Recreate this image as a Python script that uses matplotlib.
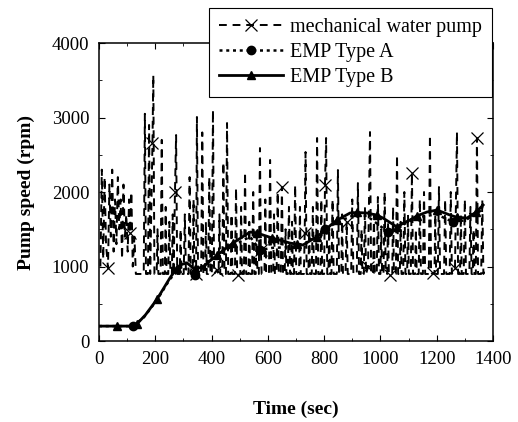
import matplotlib
matplotlib.use("Agg")
import matplotlib.pyplot as plt

plt.rcParams['font.family'] = ['Liberation Serif', 'DejaVu Serif']

# mechanical water pump (fast on/off spikes)
mech_t = [5, 10, 15, 20, 25, 32, 37, 42, 47, 52, 57, 62, 67, 72, 77, 82, 87, 92, 97, 102,
          107, 110, 115, 120, 126, 131,
          159, 163, 167, 174, 178, 182, 190, 193, 197, 205, 208, 211, 219, 223, 227,
          234, 237, 240, 246, 250, 254, 259, 262, 265, 270, 274, 278, 287, 290, 293,
          301, 305, 309, 318, 322, 326, 333, 336, 339, 345, 348, 352, 363, 367, 371,
          377, 380, 383, 388, 392, 396, 401, 405, 409, 419, 425, 428, 431,
          438, 442, 446, 451, 455, 459, 468, 471, 474, 483, 487, 491, 494,
          502, 505, 508, 515, 519, 523, 531, 534, 537, 544, 548, 552, 557, 560, 563,
          568, 572, 575, 578, 588, 591, 594, 604, 608, 612, 619, 622, 625,
          631, 635, 639, 646, 650, 654, 660, 663, 666, 671, 675, 679, 683, 686, 689,
          693, 697, 701, 711, 714, 717, 728, 731, 734, 738, 744, 747, 750,
          756, 760, 764, 771, 775, 779, 787, 790, 793, 800, 803, 807, 811,
          815, 818, 821, 826, 830, 834, 845, 849, 853, 861, 864, 867, 876, 880, 884,
          896, 900, 904, 916, 920, 924, 930, 933, 936, 941, 945, 949, 956, 963, 967,
          974, 977, 980, 987, 991, 995, 1000, 1003, 1006, 1011, 1015, 1019, 1024, 1027, 1030, 1034,
          1042, 1045, 1048, 1055, 1059, 1063, 1069, 1072, 1075, 1081, 1085, 1089,
          1095, 1098, 1101, 1108, 1112, 1116, 1123, 1126, 1129, 1136, 1140, 1144,
          1151, 1155, 1159, 1172, 1176, 1180, 1187, 1192, 1195, 1198, 1204, 1208, 1212,
          1226, 1230, 1234, 1246, 1250, 1254, 1265, 1272, 1276, 1283, 1286, 1289,
          1296, 1300, 1304, 1316, 1320, 1324, 1328, 1331, 1334, 1339, 1343, 1347,
          1358, 1362, 1366, 1372]
mech_v = [1000, 2300, 1100, 2200, 1300, 980, 2100, 1400, 2300, 1200, 1900, 1300, 2200, 1500, 1900, 1100, 2100, 1400, 1700, 1200,
          1900, 1450, 2000, 1000, 1400, 900,
          900, 3050, 900, 900, 2900, 900, 2658, 3570, 900, 900, 1500, 900, 900, 2700, 900,
          900, 1800, 900, 900, 1600, 900, 900, 1700, 900, 2000, 2765, 900, 900, 1500, 900,
          900, 1700, 900, 900, 2200, 900, 900, 1900, 900, 900, 3007, 900, 900, 2800, 900,
          900, 1600, 900, 900, 2200, 900, 900, 3100, 900, 953, 900, 1700, 900,
          900, 2400, 900, 900, 2926, 900, 900, 1700, 900, 900, 2054, 900, 886,
          900, 1800, 900, 900, 2268, 900, 900, 1600, 900, 900, 2000, 900, 900, 1500, 900,
          900, 2590, 1220, 900, 900, 1900, 900, 900, 2430, 900, 900, 1700, 900,
          900, 2000, 900, 900, 2067, 900, 900, 1500, 900, 900, 1800, 900, 900, 1600, 900,
          900, 2094, 900, 900, 1800, 900, 900, 1450, 2537, 900, 900, 1500, 900,
          900, 1800, 900, 900, 2725, 900, 900, 1900, 900, 900, 2094, 2725, 900,
          900, 1500, 900, 900, 1900, 900, 900, 2295, 900, 900, 1700, 900, 900, 1600, 900,
          900, 1900, 900, 900, 2120, 900, 900, 1500, 900, 900, 1800, 900, 993, 2805, 900,
          900, 1700, 900, 900, 1933, 900, 900, 1500, 900, 900, 2000, 900, 900, 1600, 900, 886,
          900, 1800, 900, 900, 2497, 900, 900, 1600, 900, 900, 2000, 900,
          900, 1700, 900, 900, 2255, 900, 900, 1500, 900, 900, 1900, 900,
          900, 2000, 900, 900, 2765, 900, 913, 900, 1700, 900, 900, 2067, 900,
          900, 1900, 900, 900, 2000, 900, 980, 2805, 900, 900, 1700, 900,
          900, 1900, 900, 900, 1800, 900, 900, 1500, 900, 900, 2725, 900,
          900, 1900, 900, 1000]
mech_mark_t = [32, 110, 190, 270, 345, 419, 494, 575, 650, 731, 803, 880, 956, 1034, 1112, 1187, 1265, 1343]

# EMP Type A
a_t = [0, 121, 160, 206, 252, 295, 341, 400, 476, 537, 572, 615, 679, 725, 803, 850, 900, 952,
       1027, 1080, 1130, 1200, 1258, 1300, 1340, 1365]
a_v = [200, 200, 320, 550, 830, 1000, 886, 1100, 1280, 1400, 1221, 1250, 1260, 1280, 1503, 1600, 1680, 1680,
       1463, 1560, 1660, 1700, 1597, 1620, 1700, 1780]
a_mark_t = [121, 341, 572, 803, 1027, 1258]

# EMP Type B
b_t = [0, 64, 121, 135, 165, 206, 252, 277, 295, 313, 341, 370, 419, 476, 537, 561, 583, 615, 679, 703,
       725, 774, 796, 832, 845, 892, 916, 952, 987, 1009, 1059, 1080, 1105, 1130, 1166, 1201, 1247, 1272, 1308, 1340,
       1365]
b_v = [200, 200, 200, 230, 350, 560, 846, 980, 1030, 1047, 960, 1000, 1150, 1315, 1463, 1450, 1423, 1383, 1315, 1300,
       1289, 1400, 1463, 1584, 1620, 1718, 1725, 1718, 1690, 1651, 1530, 1580, 1624, 1680, 1732, 1758, 1691, 1660, 1651, 1730,
       1826]
b_mark_t = [64, 135, 206, 277, 341, 419, 476, 561, 615, 703, 774, 845, 916, 987, 1059, 1130, 1201, 1272, 1340]

fig = plt.figure(figsize=(5.18, 4.22), dpi=100)
ax = fig.add_axes([0.1911, 0.1919, 0.7606, 0.7062])

ax.plot(mech_t, mech_v, color='black', lw=1.4, linestyle=(0, (4, 3)),
        marker='x', ms=8, mew=0.9, markevery=[mech_t.index(t) for t in mech_mark_t],
        label='mechanical water pump')
ax.plot(a_t, a_v, color='black', lw=1.8, linestyle=(0, (1.2, 1.5)),
        marker='o', ms=6, markevery=[a_t.index(t) for t in a_mark_t],
        label='EMP Type A')
ax.plot(b_t, b_v, color='black', lw=2.0, linestyle='-',
        marker='^', ms=6, markevery=[b_t.index(t) for t in b_mark_t],
        label='EMP Type B')

ax.set_xlim(0, 1400)
ax.set_ylim(0, 4000)
ax.set_xticks(range(0, 1401, 200))
ax.set_xticks(range(0, 1401, 100), minor=True)
ax.set_yticks(range(0, 4001, 1000))
ax.set_yticks(range(0, 4001, 500), minor=True)
ax.tick_params(which='both', direction='in', top=True, right=True, labelsize=13.5, pad=7)
ax.tick_params(which='major', length=4)
ax.tick_params(which='minor', length=2.5)
for s in ax.spines.values():
    s.set_linewidth(1.1)

ax.set_xlabel('Time (sec)', fontsize=14, fontweight='bold', labelpad=24)
ax.set_ylabel('Pump speed (rpm)', fontsize=14, fontweight='bold', labelpad=12)

leg = fig.legend(loc='upper right', bbox_to_anchor=(0.950, 0.981), bbox_transform=fig.transFigure,
                 borderaxespad=0, fontsize=14.5, handlelength=3.2, handletextpad=0.35,
                 labelspacing=0.28, fancybox=False, framealpha=1, edgecolor='black',
                 borderpad=0.5, numpoints=1)
leg.get_frame().set_linewidth(0.8)

fig.savefig('out.png', dpi=100)
